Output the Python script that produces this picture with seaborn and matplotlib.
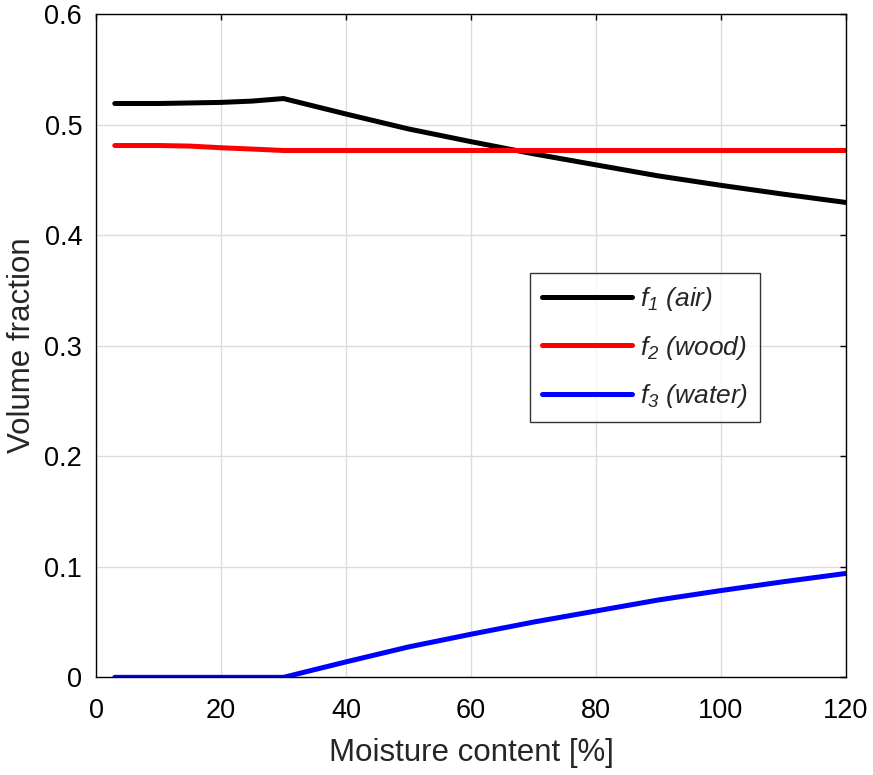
import numpy as np
import pandas as pd
import matplotlib
matplotlib.use('Agg')
import matplotlib.pyplot as plt
import seaborn as sns

# values
moisture = [3, 10, 15, 20, 25, 30, 40, 50, 60, 70, 80, 90, 100, 110, 120]
f_air = [0.519, 0.519, 0.5195, 0.520, 0.5212, 0.5235, 0.5095, 0.4960, 0.4845, 0.4735,
         0.4635, 0.4535, 0.4450, 0.4370, 0.4295]
f_wood = [0.481, 0.481, 0.4805, 0.479, 0.4778, 0.4765, 0.4765, 0.4765, 0.4765, 0.4765,
          0.4765, 0.4765, 0.4765, 0.4765, 0.4765]
f_water = [0, 0, 0, 0, 0, 0, 0.014, 0.0275, 0.039, 0.050, 0.060, 0.070, 0.0785, 0.0865, 0.094]
labels = [r'$f_1$ (air)', r'$f_2$ (wood)', r'$f_3$ (water)']
colors = ['black', 'red', 'blue']

df = pd.concat([
    pd.DataFrame({'moisture': moisture, 'fraction': vals, 'phase': lab})
    for vals, lab in zip([f_air, f_wood, f_water], labels)
])

sns.set_style('white')
plt.rcParams['font.family'] = ['Liberation Sans', 'DejaVu Sans']
plt.rcParams['mathtext.fontset'] = 'custom'
plt.rcParams['mathtext.rm'] = 'Liberation Sans:italic'
plt.rcParams['mathtext.it'] = 'Liberation Sans:italic'

fig = plt.figure(figsize=(8.73, 7.75), dpi=100)
ax = fig.add_axes([0.110, 0.126, 0.859, 0.856])
sns.lineplot(data=df, x='moisture', y='fraction', hue='phase', palette=colors,
             linewidth=3.6, ax=ax)

ax.set_xlim(0, 120)
ax.set_ylim(0, 0.6)
ax.set_xticks(np.arange(0, 121, 20))
ax.set_yticks(np.arange(0, 0.61, 0.1))
ax.set_yticklabels(['0', '0.1', '0.2', '0.3', '0.4', '0.5', '0.6'])
ax.grid(True, color='#dcdcdc', linewidth=1.0)
ax.tick_params(direction='in', top=True, right=True, length=4, width=1.0,
               labelsize=19.5, colors='black')
ax.tick_params(axis='x', pad=15)
ax.tick_params(axis='y', pad=10)
for s in ax.spines.values():
    s.set_visible(True)
    s.set_color('black')
    s.set_linewidth(1.0)
ax.set_xlabel('Moisture content [%]', fontsize=22.5, labelpad=10)
ax.set_ylabel('Volume fraction', fontsize=22.5, labelpad=5)

leg = ax.legend(loc='upper left', bbox_to_anchor=(0.5787, 0.6094), borderaxespad=0,
                prop={'style': 'italic', 'size': 19}, frameon=True, fancybox=False,
                edgecolor='black', handlelength=3.4, labelspacing=0.78,
                borderpad=0.45, handletextpad=0.3)
leg.get_frame().set_linewidth(1.0)
for line in leg.get_lines():
    line.set_linewidth(3.6)

fig.savefig('out.png', dpi=100)
